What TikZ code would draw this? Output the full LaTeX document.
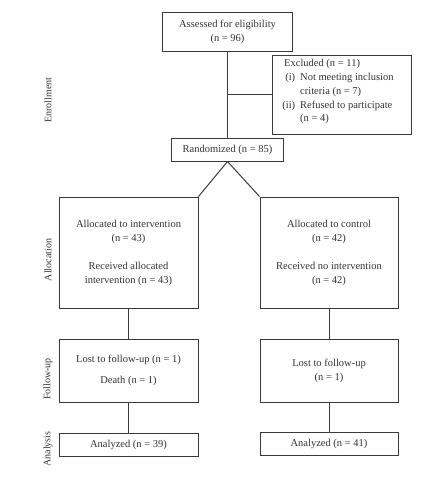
\documentclass[tikz,border=0pt]{standalone}
\usepackage{fontspec}
\setmainfont{Liberation Serif}
\definecolor{ink}{HTML}{333333}
\definecolor{edge}{HTML}{3A3A3A}
\begin{document}
\begin{tikzpicture}[x=1pt,y=-1pt,
  box/.style={draw=edge,line width=1pt,rectangle,inner sep=0pt,text=ink,align=center,
    font=\fontsize{10.5}{14}\selectfont},
  phase/.style={rotate=90,text=ink,font=\fontsize{10}{12}\selectfont,inner sep=0pt},
  conn/.style={draw=edge,line width=1pt}]
\useasboundingbox (0,0) rectangle (445,479);
\node[box,minimum width=130,minimum height=39] (assess) at (227.5,31.5) {Assessed for eligibility\\(n = 96)};
\node[box,minimum width=139,minimum height=79] (excl) at (341.5,94.5) {};
\node[text=ink,font=\fontsize{10.5}{13.7}\selectfont,anchor=north west,inner sep=0pt,align=left] (excltext) at (279,59.5) {%
\hspace{5pt}Excluded (n = 11)\\
\makebox[16pt][r]{(i)}\hspace{5pt}Not meeting inclusion\\
\hspace{21pt}criteria (n = 7)\\
\makebox[16pt][r]{(ii)}\hspace{5pt}Refused to participate\\
\hspace{21pt}(n = 4)};
\node[box,minimum width=112,minimum height=23] (rand) at (227.5,149.5) {Randomized (n = 85)};
\node[box,minimum width=139,minimum height=111] (allocL) at (128.5,252.5) {Allocated to intervention\\(n = 43)\\[14pt]Received allocated\\intervention (n = 43)};
\node[box,minimum width=138,minimum height=111] (allocR) at (329,252.5) {Allocated to control\\(n = 42)\\[14pt]Received no intervention\\(n = 42)};
\node[box,minimum width=139,minimum height=63] (fuL) at (128.5,370.5) {Lost to follow-up (n = 1)\\[7pt]Death (n = 1)};
\node[box,minimum width=138,minimum height=63] (fuR) at (329,370.5) {Lost to follow-up\\(n = 1)};
\node[box,minimum width=139,minimum height=23] (anL) at (128.5,444.5) {Analyzed (n = 39)};
\node[box,minimum width=138,minimum height=23] (anR) at (329,443.5) {Analyzed (n = 41)};
\node[phase] (p1) at (48,100) {Enrollment};
\node[phase] (p2) at (48,260) {Allocation};
\node[phase] (p3) at (48,379) {Follow-up};
\node[phase] (p4) at (48,449) {Analysis};
\draw[conn] (assess.south) -- (rand.north);
\draw[conn] (assess.south |- excl.west) -- (excl.west);
\draw[conn] (rand.south) -- (allocL.north east);
\draw[conn] (rand.south) -- (allocR.north west);
\draw[conn] (allocL.south) -- (fuL.north);
\draw[conn] (fuL.south) -- (anL.north);
\draw[conn] (allocR.south) -- (fuR.north);
\draw[conn] (fuR.south) -- (anR.north);
\end{tikzpicture}
\end{document}
